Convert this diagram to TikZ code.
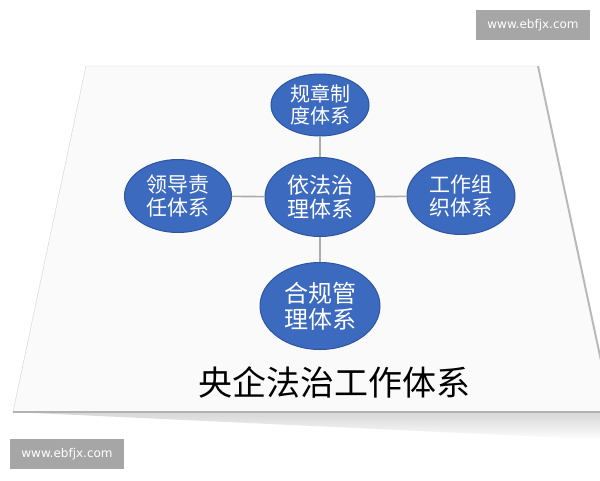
\documentclass[tikz,border=0pt]{standalone}
\usepackage{fontspec}
\usepackage{tikz}
\usetikzlibrary{shapes.geometric}
\newfontfamily\cjk{Noto Sans CJK SC}
\newfontfamily\wmfont{DejaVu Sans}
\definecolor{bubblefill}{RGB}{60,106,190}
\definecolor{bubbleline}{RGB}{45,86,160}
\definecolor{paperfill}{RGB}{250,250,250}
\definecolor{wmgray}{RGB}{166,166,166}

\begin{document}
\begin{tikzpicture}[x=1pt,y=-1pt,
	bubble/.style={ellipse,fill=bubblefill,draw=bubbleline,line width=1pt,text=white,inner sep=0pt,align=center,font=\cjk\fontsize{21}{23}\selectfont},
	link/.style={draw=gray!65,line width=1.6pt},
	wm/.style={fill=wmgray,text=white,minimum width=114pt,minimum height=30pt,inner sep=0pt,font=\wmfont\fontsize{12}{14}\selectfont}]
\useasboundingbox (0,0) rectangle (600,480);
\fill[white] (0,0) rectangle (600,480);
\shade[top color=black!16,bottom color=white] (13,412) -- (612,412) -- (612,440) -- cycle;
\filldraw[fill=paperfill,draw=gray!35] (86,66) -- (538,66) -- (612,412) -- (13,412) -- cycle;
\draw[gray!55,line width=2pt] (538,66) -- (612,412);
\draw[gray!60,line width=1.2pt] (13,412) -- (612,412);
\node[bubble,minimum width=98pt,minimum height=62pt,font=\cjk\fontsize{20}{22}\selectfont] (rule) at (320,105) {规章制\\度体系};
\node[bubble,minimum width=110pt,minimum height=79pt,font=\cjk\fontsize{22}{24}\selectfont] (law) at (320,197) {依法治\\理体系};
\node[bubble,minimum width=107pt,minimum height=73pt] (lead) at (178,196) {领导责\\任体系};
\node[bubble,minimum width=108pt,minimum height=77pt] (work) at (461,196) {工作组\\织体系};
\node[bubble,minimum width=120pt,minimum height=87pt,font=\cjk\fontsize{24}{26}\selectfont] (comply) at (320,306) {合规管\\理体系};
\foreach \n in {rule,lead,work,comply}
{
	\draw[link] (law) -- (\n);
}
\node[font=\cjk\fontsize{34}{38}\selectfont] (title) at (334,382) {央企法治工作体系};
\node[wm] (wmtop) at (533,25) {www.ebfjx.com};
\node[wm] (wmbot) at (67,454) {www.ebfjx.com};
\end{tikzpicture}
\end{document}
